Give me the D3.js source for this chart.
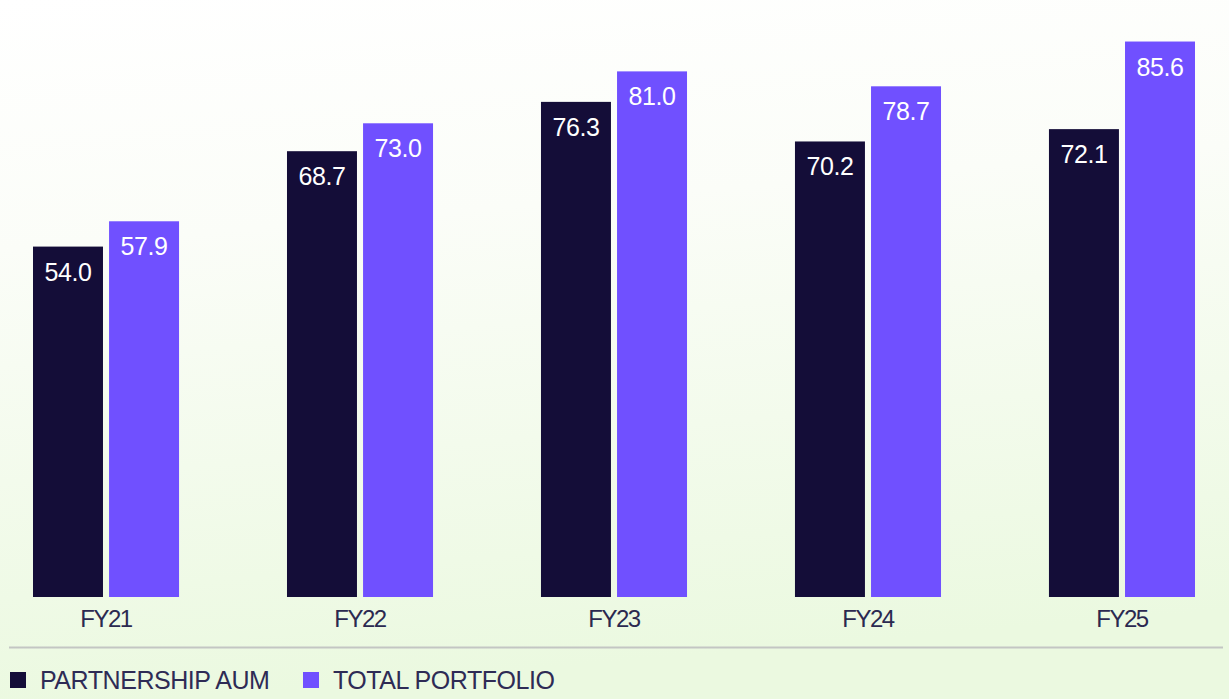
<!DOCTYPE html>
<html>
<head>
<meta charset="utf-8">
<script src="https://cdn.jsdelivr.net/npm/d3@7"></script>
<style>
  html, body { margin: 0; padding: 0; }
  body { width: 1229px; height: 699px; overflow: hidden; }
  text { font-family: "Liberation Sans", Arial, sans-serif; }
</style>
</head>
<body>
<script>
// data
const years = ["FY21", "FY22", "FY23", "FY24", "FY25"];
const seriesNames = ["PARTNERSHIP AUM", "TOTAL PORTFOLIO"];
const partnershipAum = [54.0, 68.7, 76.3, 70.2, 72.1];
const totalPortfolio = [57.9, 73.0, 81.0, 78.7, 85.6];
const colors = ["#140d38", "#7050ff"];

const width = 1229;
const height = 699;

const svg = d3.select("body").append("svg")
    .attr("width", width)
    .attr("height", height);

// background: white at top, pale green at the bottom
const defs = svg.append("defs");
const grad = defs.append("linearGradient")
    .attr("id", "bg")
    .attr("x1", "0").attr("y1", "0")
    .attr("x2", "0.15").attr("y2", "1");
grad.append("stop").attr("offset", "0%").attr("stop-color", "#ffffff");
grad.append("stop").attr("offset", "35%").attr("stop-color", "#fbfdf8");
grad.append("stop").attr("offset", "100%").attr("stop-color", "#ebf9e0");
svg.append("rect")
    .attr("width", width)
    .attr("height", height)
    .attr("fill", "url(#bg)");

// scales
const x0 = d3.scaleBand()
    .domain(years)
    .range([33, 1195])
    .paddingInner(0.425)
    .paddingOuter(0);

const x1 = d3.scaleBand()
    .domain(seriesNames)
    .range([0, x0.bandwidth()])
    .paddingInner(0.08);

const y = d3.scaleLinear()
    .domain([0, 92])
    .range([597, 0]);

const rows = years.map((yr, i) => ({
    year: yr,
    values: [partnershipAum[i], totalPortfolio[i]]
}));

// bars
const group = svg.selectAll(".grp")
    .data(rows)
    .enter().append("g")
    .attr("class", "grp")
    .attr("transform", d => `translate(${x0(d.year)},0)`);

const cell = group.selectAll(".cell")
    .data(d => d.values.map((v, k) => ({ name: seriesNames[k], value: v, k: k })))
    .enter().append("g")
    .attr("class", "cell");

cell.append("rect")
    .attr("x", d => x1(d.name))
    .attr("y", d => y(d.value))
    .attr("width", x1.bandwidth())
    .attr("height", d => y(0) - y(d.value))
    .attr("fill", d => colors[d.k]);

// values inside the bars
cell.append("text")
    .attr("x", d => x1(d.name) + x1.bandwidth() / 2)
    .attr("y", d => y(d.value) + 34)
    .attr("text-anchor", "middle")
    .style("font-size", "25px")
    .style("letter-spacing", "-0.4px")
    .style("fill", "#ffffff")
    .text(d => d.value.toFixed(1));

// category axis (labels only)
const xAxis = svg.append("g")
    .attr("transform", `translate(0,${y(0)})`)
    .call(d3.axisBottom(x0).tickSize(0).tickPadding(13));
xAxis.select(".domain").remove();
xAxis.selectAll("text")
    .style("font-family", "'Liberation Sans', Arial, sans-serif")
    .style("font-size", "24px")
    .style("letter-spacing", "-1.5px")
    .style("fill", "#2b2950");

// separator line
svg.append("line")
    .attr("x1", 9).attr("x2", 1223)
    .attr("y1", 647.5).attr("y2", 647.5)
    .attr("stroke", "#c3c6c3")
    .attr("stroke-width", 2);

// legend
const legendX = [10, 303];
const legend = svg.selectAll(".legend")
    .data(seriesNames)
    .enter().append("g")
    .attr("class", "legend")
    .attr("transform", (d, i) => `translate(${legendX[i]},672)`);

legend.append("rect")
    .attr("width", 16)
    .attr("height", 16)
    .attr("fill", (d, i) => colors[i]);

legend.append("text")
    .attr("x", 30)
    .attr("y", 17)
    .style("font-size", "25px")
    .style("letter-spacing", "-0.45px")
    .style("fill", "#2e2b55")
    .text(d => d);
</script>
</body>
</html>
